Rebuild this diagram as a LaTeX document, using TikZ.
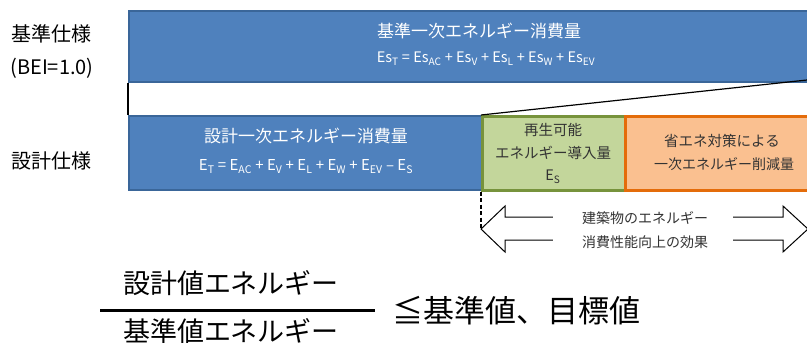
\documentclass[tikz,border=0pt]{standalone}
\usepackage{fontspec}
\setmainfont{Noto Sans CJK JP}
\definecolor{blueF}{HTML}{4F81BD}
\definecolor{blueD}{HTML}{3A6699}
\definecolor{greenF}{HTML}{C3D69B}
\definecolor{greenD}{HTML}{77933C}
\definecolor{orangeF}{HTML}{FAC090}
\definecolor{orangeD}{HTML}{E46C0A}
\definecolor{txt}{HTML}{333333}
\newcommand{\subx}[1]{\textsubscript{#1}}
\tikzset{
  boxbase/.style={anchor=north west, inner sep=0pt},
  bluebox/.style={boxbase, fill=blueF, draw=blueD, line width=2pt},
  greenbox/.style={boxbase, fill=greenF, draw=greenD, line width=2.5pt},
  orangebox/.style={boxbase, fill=orangeF, draw=orangeD, line width=3pt},
  whitetitle/.style={inner sep=0pt, text=white, font=\fontsize{17}{17}\selectfont},
  whiteformula/.style={inner sep=0pt, text=white, font=\fontsize{14.5}{14.5}\selectfont},
  darktext/.style={inner sep=0pt, text=txt, font=\fontsize{14.5}{14.5}\selectfont},
  sidelabel/.style={inner sep=0pt, text=black, font=\fontsize{20}{20}\selectfont},
  fractext/.style={inner sep=0pt, text=black, font=\fontsize{27}{27}\selectfont},
}
\begin{document}
\begin{tikzpicture}[x=1pt,y=-1pt]
\useasboundingbox (0,0) rectangle (807,343);
\clip (0,0) rectangle (807,343);
% left labels
\node[sidelabel] (lab1) at (52,34) {基準仕様};
\node[sidelabel] (lab2) at (52,68) {(BEI=1.0)};
\node[sidelabel] (lab3) at (52,161) {設計仕様};
% top box
\node[bluebox, minimum width=706pt, minimum height=71pt] (top) at (128,10) {};
\node[whitetitle] (toptitle) at (479,31) {基準一次エネルギー消費量};
\node[whiteformula] (topformula) at (486,59)
  {Es\subx{T} = Es\subx{AC} + Es\subx{V} + Es\subx{L} + Es\subx{W} + Es\subx{EV}};
% design box
\node[bluebox, minimum width=353pt, minimum height=74pt] (design) at (128,115) {};
\node[whitetitle] (destitle) at (306,136) {設計一次エネルギー消費量};
\node[whiteformula, font=\fontsize{15}{15}\selectfont] (desformula) at (306,167)
  {E\subx{T} = E\subx{AC} + E\subx{V} + E\subx{L} + E\subx{W} + E\subx{EV} – E\subx{S}};
% green box
\node[greenbox, minimum width=143pt, minimum height=74pt] (green) at (481,115) {};
\node[darktext] (g1) at (553,130) {再生可能};
\node[darktext] (g2) at (553,153) {エネルギー導入量};
\node[darktext] (g3) at (553,177) {E\subx{S}};
% orange box
\node[orangebox, minimum width=200pt, minimum height=74pt] (orange) at (624,115) {};
\node[darktext] (o1) at (722,141) {省エネ対策による};
\node[darktext, font=\fontsize{14}{14}\selectfont] (o2) at (724,164) {一次エネルギー削減量};
% connectors
\coordinate (topright) at (807,80);
\draw[black, line width=1.2pt] (top.south west) -- (design.north west);
\draw[black, line width=1.2pt] (green.north west) -- (topright);
% double arrow
\coordinate (tipL) at (481,229);
\coordinate (tipR) at (808,229);
\draw[black, line width=1pt, fill=white, line join=miter]
  (tipL) -- (505,206) -- (505,217) -- (783,217) -- (783,206) -- (tipR)
  -- (783,252) -- (783,240) -- (505,240) -- (505,252) -- cycle;
\draw[black, line width=1.6pt, dash pattern=on 4pt off 2.5pt] (green.south west) -- (tipL);
\node[fill=white, minimum width=180pt, minimum height=46pt, inner sep=0pt] (effectbg) at (643,229) {};
\node[darktext, font=\fontsize{14}{14}\selectfont] (e1) at (645,218) {建築物のエネルギー};
\node[darktext, font=\fontsize{14}{14}\selectfont] (e2) at (645,242) {消費性能向上の効果};
% fraction
\node[fractext] (num) at (231,283) {設計値エネルギー};
\node[fractext] (den) at (231,331) {基準値エネルギー};
\coordinate (fl) at (100,310);
\coordinate (fr) at (375,310);
\draw[black, line width=3pt] (fl) -- (fr);
\node[inner sep=0pt, text=black, font=\fontsize{31}{31}\selectfont, anchor=west] (rel) at (392,311) {≦基準値、目標値};
\end{tikzpicture}
\end{document}
